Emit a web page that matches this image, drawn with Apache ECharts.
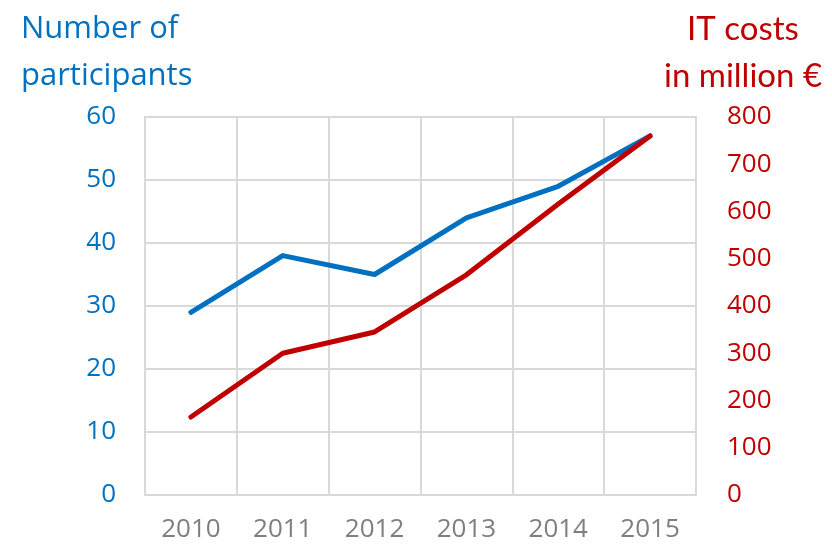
<!DOCTYPE html>
<html>
<head>
<meta charset="utf-8">
<script src="https://cdn.jsdelivr.net/npm/echarts@6/dist/echarts.min.js"></script>
<style>
  html, body { margin: 0; padding: 0; background: #fff; }
  #chart { width: 832px; height: 548px; }
</style>
</head>
<body>
<div id="chart"></div>
<script>
// 数据
const years = ['2010', '2011', '2012', '2013', '2014', '2015']
const participants = [29, 38, 35, 44, 49, 57]
const itCosts = [165, 300, 345, 466, 616, 760]

const BLUE = '#0070C0'
const RED = '#C00000'
const GRID_GRAY = '#d9d9d9'

const chart = echarts.init(document.getElementById('chart'))

const option = {
  backgroundColor: '#fff',
  animation: false,
  title: [
    {
      text: 'Number of\nparticipants',
      left: 16,
      top: 1,
      textStyle: { color: BLUE, fontSize: 31, fontWeight: 'normal', fontFamily: 'Open Sans', lineHeight: 47 }
    },
    {
      text: 'IT costs\nin million €',
      left: 738,
      top: 1,
      textAlign: 'center',
      textStyle: { color: RED, fontSize: 33, fontWeight: 'normal', fontFamily: 'Lato', lineHeight: 47, align: 'center' }
    }
  ],
  grid: {
    left: 145, right: 136, top: 117, bottom: 53,
    show: true, borderColor: GRID_GRAY, borderWidth: 2
  },
  xAxis: {
    type: 'category',
    data: years,
    boundaryGap: true,
    axisLine: { show: true, lineStyle: { color: GRID_GRAY, width: 2 } },
    axisTick: { show: false },
    splitLine: { show: true, lineStyle: { color: GRID_GRAY, width: 2 } },
    axisLabel: { color: '#7f7f7f', fontSize: 26, fontFamily: 'Open Sans', margin: 22 }
  },
  yAxis: [
    {
      type: 'value',
      min: 0, max: 60, interval: 10,
      axisLine: { show: false },
      axisTick: { show: false },
      splitLine: { show: true, lineStyle: { color: GRID_GRAY, width: 2 } },
      axisLabel: { color: BLUE, fontSize: 26, fontFamily: 'Open Sans', margin: 29 }
    },
    {
      type: 'value',
      min: 0, max: 800, interval: 100,
      position: 'right',
      axisLine: { show: false },
      axisTick: { show: false },
      splitLine: { show: false },
      axisLabel: { color: RED, fontSize: 26, fontFamily: 'Open Sans', margin: 31 }
    }
  ],
  series: [
    {
      name: 'Number of participants',
      type: 'line',
      data: participants,
      yAxisIndex: 0,
      symbol: 'none',
      lineStyle: { color: BLUE, width: 5, cap: 'round', join: 'round' },
      itemStyle: { color: BLUE }
    },
    {
      name: 'IT costs',
      type: 'line',
      data: itCosts,
      yAxisIndex: 1,
      symbol: 'none',
      lineStyle: { color: RED, width: 5, cap: 'round', join: 'round' },
      itemStyle: { color: RED }
    }
  ]
}

chart.setOption(option)
</script>
</body>
</html>
